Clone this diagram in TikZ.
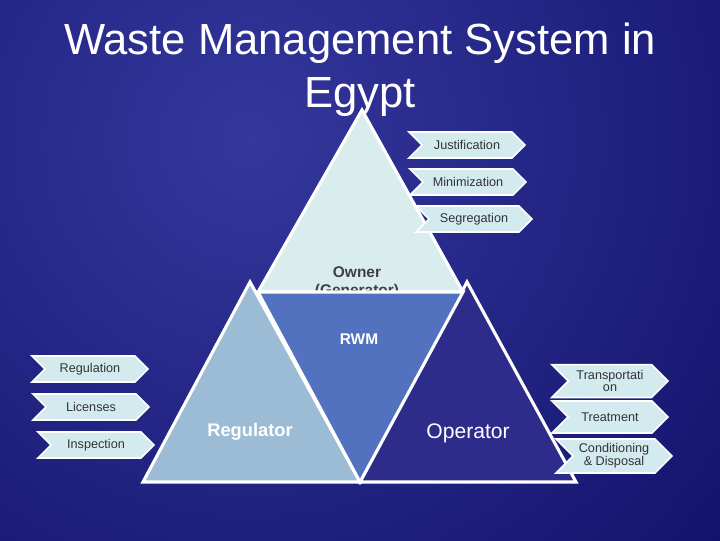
\documentclass[tikz,border=0pt]{standalone}
\usepackage{fontspec}
\setmainfont{Liberation Sans}
\usetikzlibrary{shapes.symbols,positioning}
\definecolor{bgdark}{HTML}{08085E}
\definecolor{bglight}{HTML}{34389C}
\definecolor{owner}{HTML}{D9ECEE}
\definecolor{regul}{HTML}{9BBCD4}
\definecolor{rwm}{HTML}{5272C0}
\definecolor{oper}{HTML}{2E2C8A}
\definecolor{chev}{HTML}{D3EBEE}
\tikzset{
  tri/.style={draw=white,line width=2.2pt,line join=miter},
  chevron/.style={signal,signal from=west,signal to=east,draw=white,line width=1.2pt,
    fill=chev,minimum width=2.9cm,minimum height=0.65cm,inner sep=0pt,
    font=\fontsize{9}{9}\selectfont,text=black!80,align=center},
}
\begin{document}
\begin{tikzpicture}[x=0.025cm,y=-0.025cm]
                        % background
                        \useasboundingbox (0,0) rectangle (720,540);
                        \begin{scope}
                        \clip (0,0) rectangle (720,540);
                        \shade[inner color=bglight,outer color=bgdark] (250,140) circle (800);
                        \end{scope}
                        \node (title) at (360,70) [text=white,align=center,font=\fontsize{31}{38}\selectfont] {Waste Management System in\\Egypt};
                        % owner triangle
                        \coordinate (A) at (362,110); \coordinate (B) at (258,292); \coordinate (C) at (463,292);
                        \draw [tri,fill=owner] (A) -- (C) -- (B) -- cycle;
                        \node (own) at (357,283) [align=center,font=\bfseries\fontsize{11}{13}\selectfont,text=black!75] {Owner\\(Generator)};
                        % regulator and operator
                        \coordinate (R) at (250,282); \coordinate (R1) at (143,482); \coordinate (M) at (360,482);
                        \coordinate (O) at (467,282); \coordinate (O1) at (576,482);
                        \draw [tri,fill=regul] (R) -- (M) -- (R1) -- cycle;
                        \draw [tri,fill=oper] (O) -- (O1) -- (M) -- cycle;
                        \draw [tri,fill=rwm] (B) -- (C) -- (M) -- cycle;
                        \node (rwm) at (359,339) [text=white,font=\bfseries\fontsize{11}{11}\selectfont] {RWM};
                        \node (reg) at (250,432) [text=white,font=\bfseries\fontsize{13}{13}\selectfont] {Regulator};
                        \node (op) at (468,433) [text=white,font=\fontsize{15}{15}\selectfont] {Operator};
                        % chevrons
                        \node (just) at (467,145) [chevron] {Justification};
                        \node (mini) at (468,182) [chevron] {Minimization};
                        \node (segr) at (474,219) [chevron] {Segregation};
                        \node (regu) at (90,369) [chevron] {Regulation};
                        \node (lice) at (91,407) [chevron] {Licenses};
                        \node (insp) at (96,445) [chevron] {Inspection};
                        \node (tran) at (610,381) [chevron,minimum height=0.82cm] {Transportati\\on};
                        \node (trea) at (610,417) [chevron,minimum height=0.8cm] {Treatment};
                        \node (cond) at (614,456) [chevron,minimum height=0.85cm] {Conditioning\\\& Disposal};
\end{tikzpicture}
\end{document}
